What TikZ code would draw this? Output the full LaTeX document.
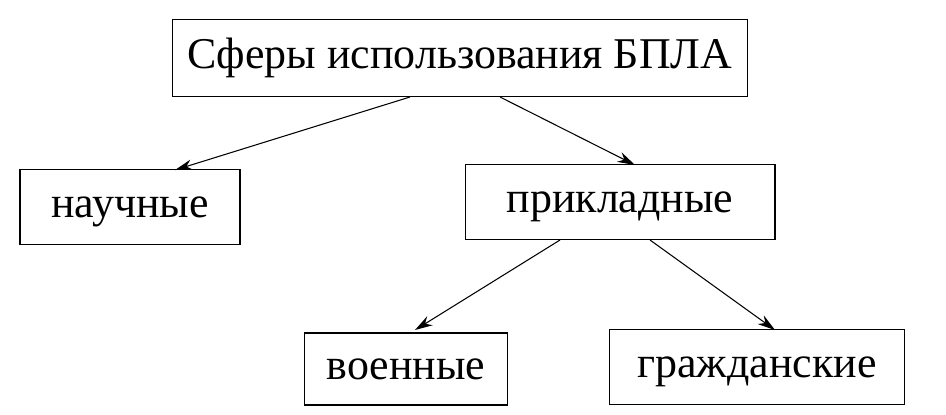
\documentclass[tikz,border=0pt]{standalone}
\usepackage{fontspec}
\setmainfont{Liberation Serif}
\usetikzlibrary{arrows.meta}

\begin{document}
\begin{tikzpicture}[x=0.02cm,y=-0.02cm,
semithick,
box/.style ={draw, rectangle, inner sep=0pt, text height=17pt, text depth=5pt,
  font=\fontsize{25}{29}\selectfont},
link/.style ={-{Stealth[length=10pt,width=6pt]}}
]
\useasboundingbox (0,0) rectangle (946,414);
\node[box, minimum width=11.52cm, minimum height=1.54cm] (Sf) at (460,58) {Сферы использования БПЛА};
\node[box, minimum width=4.4cm, minimum height=1.5cm] (Nauch) at (130,207) {научные};
\node[box, minimum width=6.2cm, minimum height=1.5cm] (Prikl) at (620,202) {прикладные};
\node[box, minimum width=4.06cm, minimum height=1.44cm] (Voen) at (406,369) {военные};
\node[box, minimum width=5.9cm, minimum height=1.5cm] (Grazh) at (757,367) {гражданские};
\draw[link] (410,97) -- (175,170);
\draw[link] (500,97) -- (635,165);
\draw[link] (560,240) -- (415,330);
\draw[link] (650,240) -- (775,330);
\end{tikzpicture}
\end{document}
